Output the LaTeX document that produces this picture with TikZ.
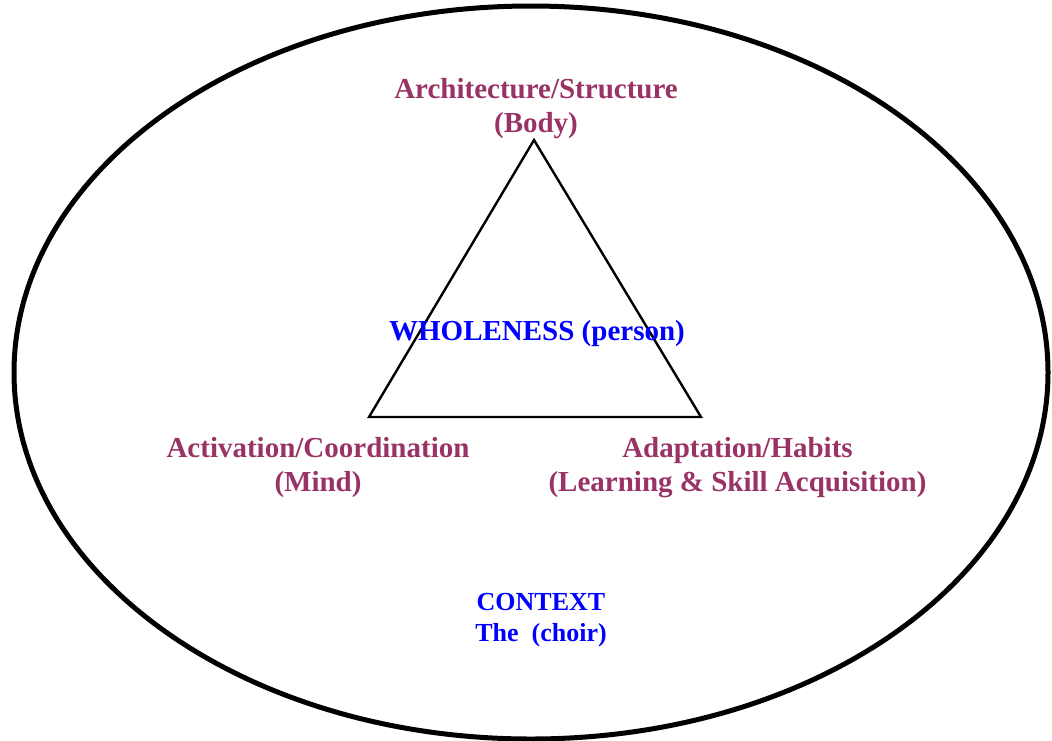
\documentclass[tikz,border=0pt]{standalone}
\usepackage{fontspec}
\setmainfont{Liberation Serif}
\definecolor{plum}{HTML}{993366}
\definecolor{pureblue}{HTML}{0000FF}
\begin{document}
\begin{tikzpicture}[x=1pt,y=-1pt,
  corner/.style={font=\fontsize{29}{34}\selectfont\bfseries, text=plum, align=center, inner sep=0pt},
  ctx/.style={font=\fontsize{26}{31}\selectfont\bfseries, text=pureblue, align=center, inner sep=0pt}]
\useasboundingbox (0,0) rectangle (1052,740);
\draw[line width=5pt] (531,372.5) ellipse [x radius=517, y radius=366.5];
\coordinate (top) at (534,140);
\coordinate (bl) at (369,417);
\coordinate (br) at (701,417);
\draw[line width=2.4pt, line join=miter] (top) -- (bl) -- (br) -- cycle;
\node[corner] (arch) at (536,109) {Architecture/Structure\\(Body)};
\node[corner] (act) at (318,468) {Activation/Coordination\\(Mind)};
\node[corner] (adapt) at (737.5,468) {Adaptation/Habits\\(Learning \& Skill Acquisition)};
\node[font=\fontsize{29}{34}\selectfont\bfseries, text=pureblue, inner sep=0pt] (whole) at (537,334) {WHOLENESS (person)};
\node[ctx] (context) at (541,620) {CONTEXT\\The\ \ (choir)};
\end{tikzpicture}
\end{document}
